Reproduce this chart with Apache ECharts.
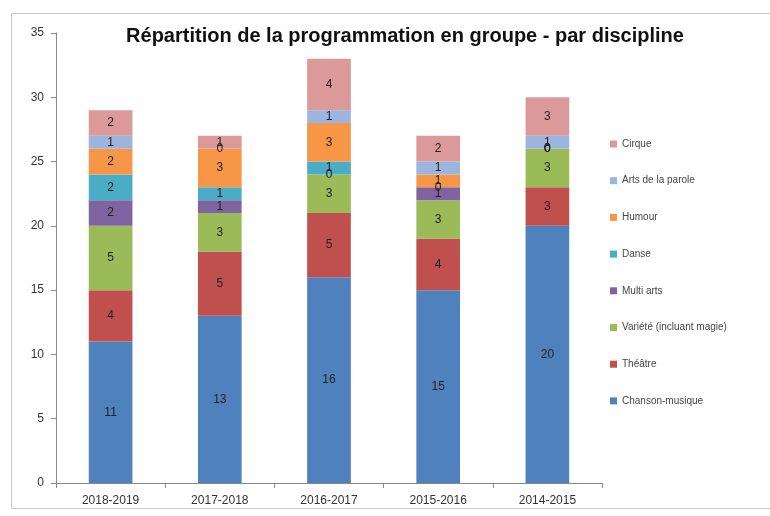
<!DOCTYPE html>
<html>
<head>
<meta charset="utf-8">
<script src="https://cdn.jsdelivr.net/npm/echarts@6/dist/echarts.min.js"></script>
<style>
  html, body { margin: 0; padding: 0; background: #fff; }
  #chart { width: 770px; height: 516px; }
</style>
</head>
<body>
<div id="chart"></div>
<script>
// saisons (axe x)
const saisons = ['2018-2019', '2017-2018', '2016-2017', '2015-2016', '2014-2015'];

// nombre de groupes par discipline
const chansonMusique = [11, 13, 16, 15, 20];
const theatre = [4, 5, 5, 4, 3];
const variete = [5, 3, 3, 3, 3];
const multiArts = [2, 1, 0, 1, 0];
const danse = [2, 1, 1, 0, 0];
const humour = [2, 3, 3, 1, 0];
const artsParole = [1, 0, 1, 1, 1];
const cirque = [2, 1, 4, 2, 3];

const yTicks = [0, 5, 10, 15, 20, 25, 30, 35];

const disciplines = [
  { name: 'Chanson-musique', data: chansonMusique, color: '#4F81BD' },
  { name: 'Théâtre', data: theatre, color: '#C0504D' },
  { name: 'Variété (incluant magie)', data: variete, color: '#9BBB59' },
  { name: 'Multi arts', data: multiArts, color: '#8064A2' },
  { name: 'Danse', data: danse, color: '#4BACC6' },
  { name: 'Humour', data: humour, color: '#F79646' },
  { name: 'Arts de la parole', data: artsParole, color: '#9BB5DF' },
  { name: 'Cirque', data: cirque, color: '#DB9A99' }
];

const chart = echarts.init(document.getElementById('chart'));

const option = {
  animation: false,
  backgroundColor: '#fff',
  graphic: [{
    type: 'rect',
    shape: { x: 11.5, y: 13.5, width: 770, height: 495 },
    style: { fill: 'none', stroke: '#c8c8c8', lineWidth: 1 },
    silent: true
  }],
  title: {
    text: 'Répartition de la programmation en groupe - par discipline',
    left: 400,
    top: 21,
    textAlign: 'center',
    textStyle: {
      fontFamily: 'Liberation Sans Narrow, Liberation Sans, Arial, sans-serif',
      fontSize: 20,
      fontWeight: 'bold',
      color: '#111'
    }
  },
  legend: {
    orient: 'vertical',
    left: 605,
    top: 134,
    itemWidth: 7,
    itemHeight: 7,
    itemGap: 26.7,
    icon: 'rect',
    data: disciplines.map(d => d.name).reverse(),
    textStyle: { fontSize: 10, color: '#444', fontFamily: 'Liberation Sans Narrow, Liberation Sans, sans-serif' }
  },
  grid: { left: 56, right: 168, top: 33, bottom: 33, containLabel: false },
  xAxis: {
    type: 'category',
    data: saisons,
    axisLine: { lineStyle: { color: '#888' } },
    axisTick: { show: true, length: 5, lineStyle: { color: '#888' } },
    axisLabel: { fontSize: 12, color: '#333', margin: 12 }
  },
  yAxis: {
    type: 'value',
    min: yTicks[0],
    max: yTicks[yTicks.length - 1],
    interval: 5,
    splitLine: { show: false },
    axisLine: { show: true, lineStyle: { color: '#888' } },
    axisTick: { show: true, length: 5, lineStyle: { color: '#888' } },
    axisLabel: { fontSize: 12, color: '#333', margin: 12 }
  },
  series: disciplines.map(d => ({
    name: d.name,
    type: 'bar',
    stack: 'total',
    barWidth: '40%',
    data: d.data,
    itemStyle: { color: d.color },
    label: {
      show: true,
      position: 'inside',
      fontSize: 12,
      color: '#222',
      formatter: p => String(p.value)
    }
  }))
};

chart.setOption(option);
</script>
</body>
</html>
